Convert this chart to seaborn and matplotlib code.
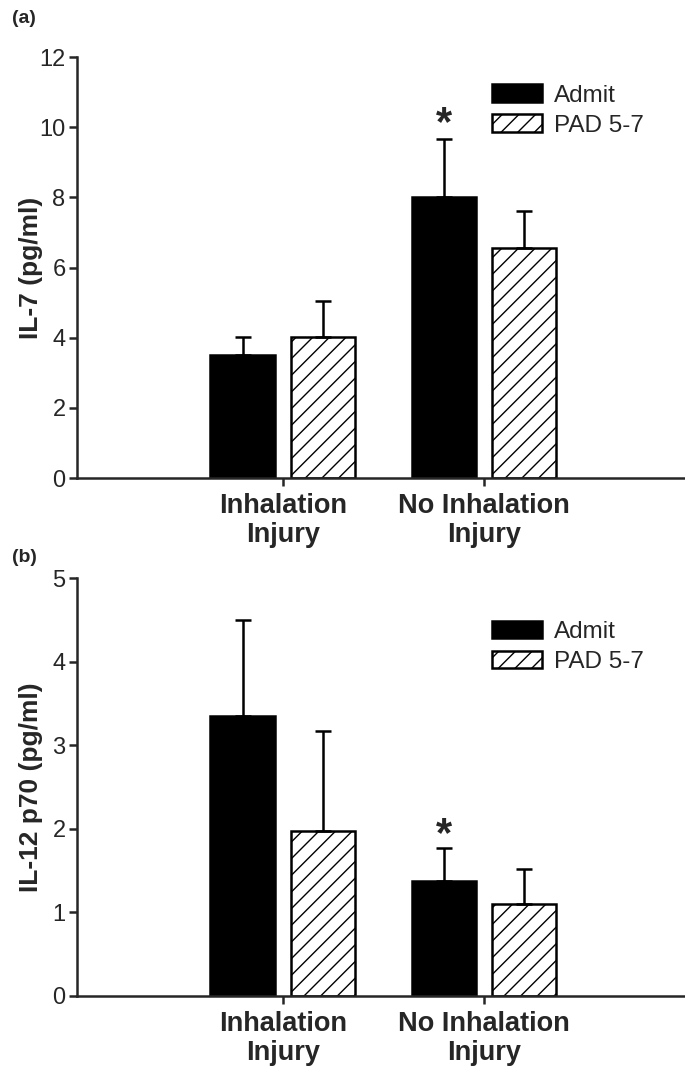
import matplotlib
matplotlib.use("Agg")
import matplotlib.pyplot as plt
import seaborn as sns
import pandas as pd

# data
groups = ["Inhalation\nInjury", "No Inhalation\nInjury"]
timepoints = ["Admit", "PAD 5-7"]

il7_mean = [3.5, 4.02, 8.0, 6.55]
il7_err = [0.53, 1.03, 1.65, 1.05]

il12_mean = [3.35, 1.97, 1.37, 1.1]
il12_err = [1.15, 1.2, 0.4, 0.42]

sns.set_style("ticks")
plt.rcParams["font.family"] = ["Liberation Sans", "DejaVu Sans"]
plt.rcParams["hatch.linewidth"] = 1.0

fig = plt.figure(figsize=(6.85, 10.8), dpi=100)
ax1 = fig.add_axes([0.112, 0.5574, 0.888, 0.3898])
ax2 = fig.add_axes([0.112, 0.0778, 0.888, 0.387])


def panel(ax, means, errs, ylabel, ymax, step, star_y, leg_y):
    df = pd.DataFrame({
        "group": [g for g in groups for _ in timepoints],
        "time": timepoints * len(groups),
        "value": means,
    })
    sns.barplot(data=df, x="group", y="value", hue="time", order=groups,
                hue_order=timepoints, palette=["black", "white"],
                errorbar=None, width=0.8, gap=0.2, edgecolor="black",
                linewidth=1.8, saturation=1, ax=ax)
    bars = ax.patches[:4]
    order = {}
    for p in bars:
        order[round(p.get_x() + p.get_width() / 2, 3)] = p
    keys = sorted(order)
    for i, k in enumerate(keys):
        p = order[k]
        if i % 2 == 1:
            p.set_hatch("//")
            p.set_facecolor("white")
        ax.errorbar(k, means[i], yerr=[[0], [errs[i]]], fmt="none",
                    ecolor="black", elinewidth=1.8, capsize=6, capthick=1.8)
    ax.text(keys[2], star_y, "*", ha="center", va="center",
            fontsize=30, fontweight="bold")

    ax.set_xlim(-1.025, 2.0)
    ax.set_ylim(0, ymax)
    ax.set_yticks([i * step for i in range(int(ymax / step) + 1)])
    ax.set_xlabel("")
    ax.set_ylabel(ylabel, fontsize=19, fontweight="bold")
    ax.yaxis.set_label_coords(-0.056, 0.5)
    ax.tick_params(axis="y", labelsize=17, width=1.8, length=6, pad=2)
    ax.tick_params(axis="x", labelsize=19.5, width=1.8, length=6, pad=5)
    for lab in ax.get_xticklabels():
        lab.set_fontweight("bold")
        lab.set_linespacing(1.12)
    for s in ["left", "bottom"]:
        ax.spines[s].set_linewidth(1.8)
    sns.despine(ax=ax)

    h, l = ax.get_legend_handles_labels()
    h[1].set_hatch("//")
    h[1].set_facecolor("white")
    ax.legend(h, l, loc="upper left", bbox_to_anchor=(0.666, leg_y),
              borderaxespad=0, frameon=False, fontsize=17.5,
              handlelength=2.07, handleheight=0.73,
              handletextpad=0.5, labelspacing=0.32)


panel(ax1, il7_mean, il7_err, "IL-7 (pg/ml)", 12, 2, 10.1, 0.958)
panel(ax2, il12_mean, il12_err, "IL-12 p70 (pg/ml)", 5, 1, 1.93, 0.921)

fig.text(0.018, 0.983, "(a)", fontsize=14, fontweight="bold", va="center")
fig.text(0.018, 0.484, "(b)", fontsize=14, fontweight="bold", va="center")

fig.savefig("out.png", dpi=100)
